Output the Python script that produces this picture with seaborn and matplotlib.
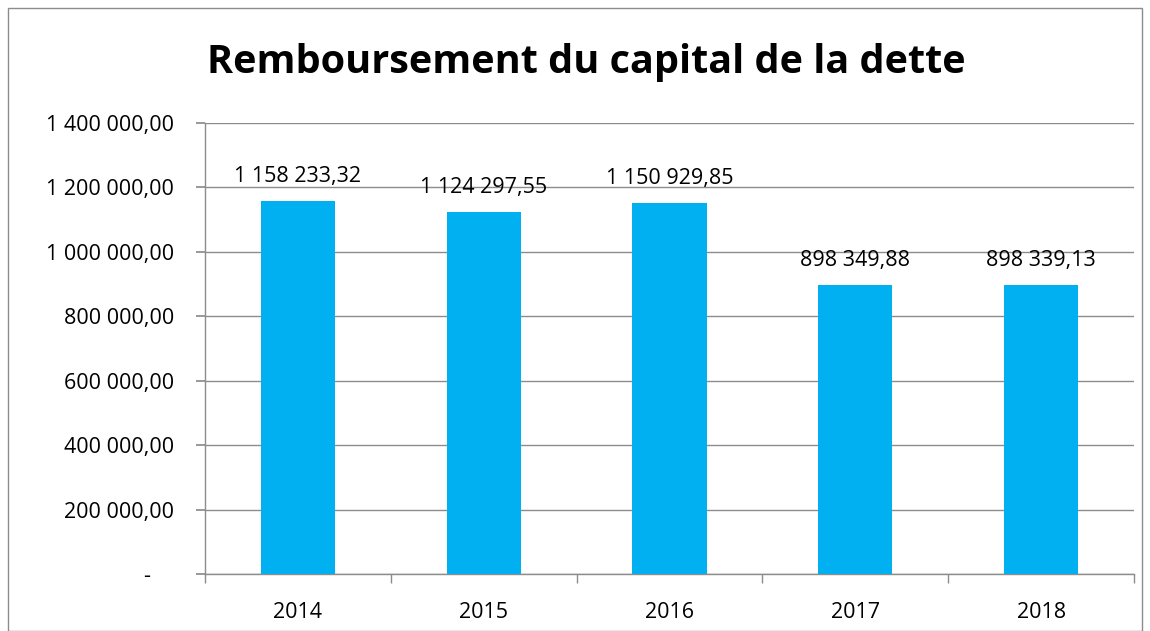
import numpy as np
import pandas as pd
import seaborn as sns
import matplotlib.pyplot as plt
from matplotlib.patches import Rectangle

years = ['2014', '2015', '2016', '2017', '2018']
capital = [1158233.32, 1124297.55, 1150929.85, 898349.88, 898339.13]
y_ticks = [0, 200000, 400000, 600000, 800000, 1000000, 1200000, 1400000]


def fr(v):
    if v == 0:
        return '-    '
    return f"{v:,.2f}".replace(',', ' ').replace('.', ',')


sns.set_theme(style='white')
plt.rcParams['font.family'] = ['Open Sans', 'DejaVu Sans']
plt.rcParams['text.color'] = 'black'

df = pd.DataFrame({'annee': years, 'capital': capital})

fig = plt.figure(figsize=(11.5, 6.31), dpi=100)
ax = fig.add_axes([205 / 1150, 1 - 574 / 631, 929 / 1150, 451 / 631])

sns.barplot(data=df, x='annee', y='capital', color='#00B0F0', saturation=1,
            width=0.4, linewidth=0, ax=ax, zorder=3)

ax.set_ylim(0, 1400000)
ax.set_xlim(-0.5, 4.5)
ax.set_yticks(y_ticks)
ax.set_yticklabels([fr(v) for v in y_ticks], fontsize=15.5)
ax.set_xticks(range(len(years)))
ax.set_xticklabels(years, fontsize=15.5)
ax.set_xlabel('')
ax.set_ylabel('')

ax.grid(axis='y', color='#8c8c8c', linewidth=1, zorder=0)
for s in ['top', 'right']:
    ax.spines[s].set_visible(False)
for s in ['left', 'bottom']:
    ax.spines[s].set_color('#8c8c8c')
    ax.spines[s].set_linewidth(1)

ax.tick_params(axis='y', which='major', left=True, length=6.5, color='#8c8c8c',
               pad=16, labelcolor='black')
ax.tick_params(axis='x', which='major', bottom=False, pad=14, labelcolor='black')
ax.set_xticks(np.arange(-0.5, 5, 1), minor=True)
ax.tick_params(axis='x', which='minor', bottom=True, length=6.5, color='#8c8c8c')

for i, v in enumerate(capital):
    ax.annotate(fr(v), (i, v), xytext=(0, 13.5), textcoords='offset points',
                ha='center', va='baseline', fontsize=15.5, color='black')

fig.text(586 / 1150, 1 - 62 / 631, 'Remboursement du capital de la dette',
         ha='center', va='center', fontsize=28.5, fontweight='bold', color='black')

fig.patches.append(Rectangle((8 / 1150, 0), 1134 / 1150, 1 - 8 / 631,
                             transform=fig.transFigure, fill=False,
                             edgecolor='#8c8c8c', linewidth=1))

fig.savefig('out.png', dpi=100)
